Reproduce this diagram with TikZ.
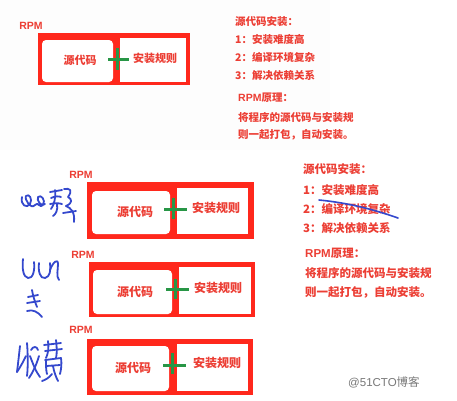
\documentclass[tikz,border=0pt]{standalone}
\usepackage{fontspec}
\setmainfont{Noto Sans CJK SC}
\newfontfamily\latinsans{Liberation Sans}
\definecolor{boxred}{RGB}{255,40,28}
\definecolor{txtred}{RGB}{236,62,52}
\definecolor{plusgreen}{RGB}{40,150,70}
\definecolor{penblue}{RGB}{52,72,205}
\definecolor{wmgray}{RGB}{120,120,120}
\tikzset{
  outerbox/.style={fill=boxred,draw=none},
  leftbox/.style={fill=white,draw=none,rounded corners=4pt},
  rightbox/.style={fill=white,draw=none},
  plusline/.style={draw=plusgreen,line width=3pt},
  boxtxt/.style={text=txtred,font=\bfseries\fontsize{11}{13}\selectfont,inner sep=0pt},
  boxtxtb/.style={text=txtred,font=\bfseries\fontsize{12}{14}\selectfont,inner sep=0pt},
  rpmtxt/.style={text=txtred,font=\latinsans\bfseries\fontsize{10.5}{12}\selectfont,inner sep=0pt},
  notetxt/.style={text=txtred,font=\bfseries\fontsize{10.5}{12}\selectfont,inner sep=0pt,anchor=west},
  notetxtb/.style={text=txtred,font=\bfseries\fontsize{11.5}{13}\selectfont,inner sep=0pt,anchor=west},
  pen/.style={draw=penblue,line width=1.8pt,line cap=round,line join=round},
}
\begin{document}
\begin{tikzpicture}[x=1pt,y=-1pt]
\useasboundingbox (0,0) rectangle (457,400);
\fill[white] (0,0) rectangle (457,400);
\fill[black!0.8] (0,0) rectangle (330,150);

% ---------- box 1 ----------
\fill[outerbox] (38,33) rectangle (190,85);
\fill[leftbox] (42,40) rectangle (113,82);
\fill[rightbox] (120,38) rectangle (186,82);
\node[boxtxt] (src1) at (80,60) {源代码};
\node[boxtxt] (rule1) at (155,58) {安装规则};
\coordinate (p1) at (117,59);
\draw[plusline] ([xshift=-9pt]p1) -- ([xshift=12pt]p1);
\draw[plusline] ([yshift=-11pt]p1) -- ([yshift=11pt]p1);
\node[rpmtxt] (rpm1) at (31,26) {RPM};

% ---------- box 2 ----------
\fill[outerbox] (87,182) rectangle (254,239);
\fill[leftbox] (92,191) rectangle (170,234);
\fill[rightbox] (177,188) rectangle (248,234);
\node[boxtxtb] (src2) at (135,212) {源代码};
\node[boxtxtb] (rule2) at (216,208) {安装规则};
\coordinate (p2) at (173,209);
\draw[plusline] ([xshift=-9pt]p2) -- ([xshift=14pt]p2);
\draw[plusline] ([yshift=-10pt]p2) -- ([yshift=11pt]p2);
\node[rpmtxt] (rpm2) at (81,175) {RPM};

% ---------- box 3 ----------
\fill[outerbox] (89,262) rectangle (255,317);
\fill[leftbox] (93,270) rectangle (172,314);
\fill[rightbox] (179,267) rectangle (251,314);
\node[boxtxtb] (src3) at (135,292) {源代码};
\node[boxtxtb] (rule3) at (218,288) {安装规则};
\coordinate (p3) at (175,289);
\draw[plusline] ([xshift=-9pt]p3) -- ([xshift=14pt]p3);
\draw[plusline] ([yshift=-10pt]p3) -- ([yshift=10pt]p3);
\node[rpmtxt] (rpm3) at (83,255) {RPM};

% ---------- box 4 ----------
\fill[outerbox] (87,339) rectangle (253,395);
\fill[leftbox] (92,346) rectangle (169,391);
\fill[rightbox] (177,344) rectangle (248,391);
\node[boxtxtb] (src4) at (133,368) {源代码};
\node[boxtxtb] (rule4) at (217,363) {安装规则};
\coordinate (p4) at (172,365);
\draw[plusline] ([xshift=-9pt]p4) -- ([xshift=14pt]p4);
\draw[plusline] ([yshift=-9pt]p4) -- ([yshift=12pt]p4);
\node[rpmtxt] (rpm4) at (81,330) {RPM};

% ---------- top notes ----------
\node[notetxt] (t1) at (235,22) {源代码安装：};
\node[notetxt] (t2) at (235,40) {1：安装难度高};
\node[notetxt] (t3) at (235,57) {2：编译环境复杂};
\node[notetxt] (t4) at (235,75) {3：解决依赖关系};
\node[notetxt] (t5) at (238,98) {{\latinsans\bfseries RPM}原理：};
\node[notetxt] (t6) at (238,117) {将程序的源代码与安装规};
\node[notetxt] (t7) at (238,135) {则一起打包，自动安装。};

% ---------- middle notes ----------
\node[notetxtb] (m1) at (303,169) {源代码安装：};
\node[notetxtb] (m2) at (303,190) {1：安装难度高};
\node[notetxtb] (m3) at (303,209) {2：编译环境复杂};
\node[notetxtb] (m4) at (303,228) {3：解决依赖关系};
\node[notetxtb] (m5) at (305,253) {{\latinsans\bfseries RPM}原理：};
\node[notetxtb] (m6) at (305,273) {将程序的源代码与安装规};
\node[notetxtb] (m7) at (305,292) {则一起打包，自动安装。};
\draw[pen,line width=1.6pt] (319,200) .. controls (350,203) and (375,210) .. (398,218);

% ---------- handwriting ----------
% group 1
\draw[pen] (22,197) .. controls (20,205) and (27,209) .. (30,204)
           .. controls (33,199) and (29,193) .. (26,196)
           .. controls (24,199) and (31,210) .. (35,205)
           .. controls (38,201) and (40,209) .. (43,205)
           .. controls (46,200) and (41,194) .. (38,197)
           .. controls (36,200) and (42,208) .. (45,204);
\draw[pen] (50,192) -- (62,190);
\draw[pen] (51,198) .. controls (55,196) and (59,196) .. (61,197);
\draw[pen] (55,190) .. controls (56,198) and (54,205) .. (51,209);
\draw[pen] (50,204) .. controls (55,203) and (59,203) .. (62,204);
\draw[pen] (57,204) .. controls (58,210) and (56,214) .. (53,216);
\draw[pen] (64,189) .. controls (70,188) and (73,190) .. (68,197)
           .. controls (72,199) and (73,203) .. (66,206);
\draw[pen] (66,206) .. controls (71,208) and (75,212) .. (74,222);
\draw[pen] (63,213) -- (76,211);
% group 2
\draw[pen] (23,259) .. controls (22,268) and (23,277) .. (28,278)
           .. controls (33,279) and (35,270) .. (34,262);
\draw[pen] (39,263) .. controls (38,271) and (40,279) .. (45,278)
           .. controls (50,277) and (51,270) .. (50,263);
\draw[pen] (50,270) .. controls (53,262) and (58,258) .. (58,264)
           .. controls (58,270) and (56,276) .. (59,280);
% group 3
\draw[pen] (28,297) -- (38,295);
\draw[pen] (27,303) -- (40,301);
\draw[pen] (32,290) .. controls (33,296) and (35,302) .. (37,307);
\draw[pen] (27,311) .. controls (33,309) and (38,312) .. (42,317);
% group 4
\draw[pen] (20,346) .. controls (19,355) and (18,364) .. (17,372);
\draw[pen] (17,372) .. controls (21,366) and (24,360) .. (26,356);
\draw[pen] (27,343) .. controls (28,355) and (28,368) .. (27,376);
\draw[pen] (31,350) .. controls (33,346) and (37,346) .. (38,350);
\draw[pen] (30,356) .. controls (33,364) and (36,372) .. (40,377);
\draw[pen] (39,356) .. controls (36,366) and (33,372) .. (29,378);
\draw[pen] (44,345) -- (61,343);
\draw[pen] (45,351) -- (62,349);
\draw[pen] (48,341) .. controls (49,348) and (48,354) .. (46,358);
\draw[pen] (56,340) .. controls (57,348) and (57,354) .. (56,358);
\draw[pen] (45,360) -- (61,358) .. controls (62,364) and (61,370) .. (60,374);
\draw[pen] (46,360) .. controls (46,366) and (46,370) .. (47,374);
\draw[pen] (46,366) -- (60,365);
\draw[pen] (53,366) .. controls (54,372) and (56,377) .. (58,381);
\draw[pen] (52,374) .. controls (49,378) and (45,380) .. (42,381);

% ---------- watermark ----------
\node[text=wmgray,font=\latinsans\fontsize{11.5}{13}\selectfont,inner sep=0pt,anchor=west] (wm) at (348,382) {@51CTO\fontspec{Noto Sans CJK SC}博客};
\end{tikzpicture}
\end{document}
